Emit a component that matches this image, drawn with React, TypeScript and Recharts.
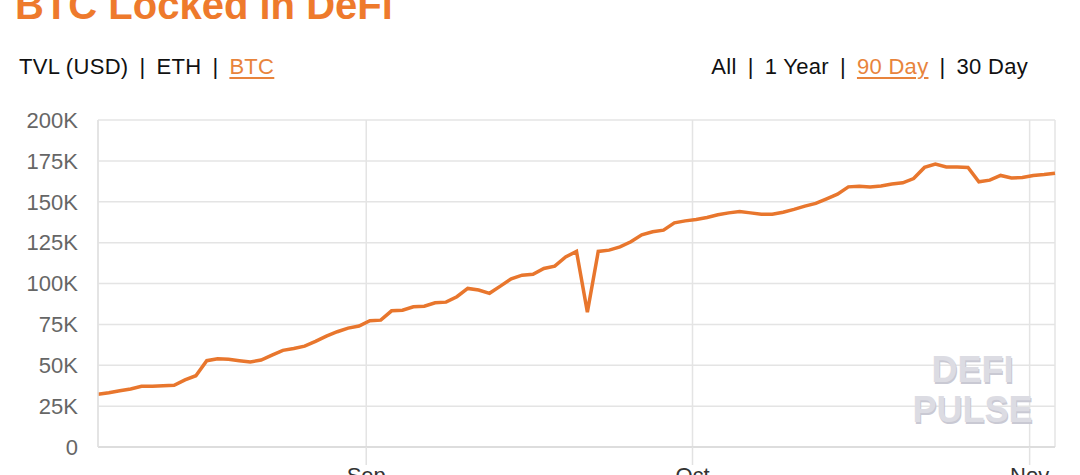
import React from 'react';
import { LineChart, Line, XAxis, YAxis, CartesianGrid } from 'recharts';

const DAY_MS = 86400000;
const startTime = Date.UTC(2020, 7, 7, 8);

// BTC locked, one reading per day (Aug 7 -> Nov 3)
const btcLocked = [
  32200, 33200, 34400, 35500, 37100, 37100, 37500, 37700, 41000, 43600,
  52800, 54000, 53600, 52800, 52000, 53200, 56200, 59100, 60300, 61700,
  64600, 67800, 70500, 72700, 74000, 77200, 77600, 83300, 83700, 85800,
  86100, 88200, 88600, 91900, 97000, 96000, 94000, 98400, 102900, 105100,
  105600, 109200, 110600, 116300, 119600, 82500, 119600, 120400, 122400, 125500,
  129800, 131600, 132600, 137100, 138300, 139200, 140400, 142000, 143200, 144100,
  143200, 142400, 142400, 143600, 145300, 147300, 149000, 151800, 154600, 159100,
  159500, 159100, 159700, 160800, 161600, 164200, 171000, 173000, 171300, 171300,
  171000, 162200, 163200, 166100, 164600, 164800, 166100, 166700, 167500,
];

const monthTicks = [Date.UTC(2020, 8, 1), Date.UTC(2020, 9, 1), Date.UTC(2020, 10, 1)];
const monthLabels = ['Sep', 'Oct', 'Nov'];
const valueTicks = [0, 25000, 50000, 75000, 100000, 125000, 150000, 175000, 200000];

const assetTabs = ['TVL (USD)', 'ETH', 'BTC'];
const activeAsset = 'BTC';
const rangeTabs = ['All', '1 Year', '90 Day', '30 Day'];
const activeRange = '90 Day';

const ORANGE = '#ee7a2c';
const FONT = '"Liberation Sans", Arial, sans-serif';

function Tabs({ items, active }: { items: string[]; active: string }) {
  return (
    <span>
      {items.map((item, i) => (
        <React.Fragment key={item}>
          {i > 0 && <span style={{ margin: '0 11px' }}>|</span>}
          <span
            style={
              item === active
                ? { color: '#e8843c', textDecoration: 'underline', textUnderlineOffset: 3 }
                : undefined
            }
          >
            {item}
          </span>
        </React.Fragment>
      ))}
    </span>
  );
}

export default function App() {
  const data = btcLocked.map((v, i) => ({ time: startTime + i * DAY_MS, btc: v }));

  const fmtValue = (v: number) => (v === 0 ? '0' : `${v / 1000}K`);
  const fmtMonth = (t: number) => monthLabels[monthTicks.indexOf(t)] ?? '';

  const tabStyle: React.CSSProperties = {
    position: 'absolute',
    top: 54,
    fontSize: 22,
    color: '#111',
    whiteSpace: 'nowrap',
    letterSpacing: 0.3,
  };

  return (
    <div
      style={{
        position: 'fixed',
        left: 0,
        top: 0,
        width: 1080,
        height: 475,
        overflow: 'hidden',
        background: '#fff',
        fontFamily: FONT,
      }}
    >
      <div
        style={{
          position: 'absolute',
          left: 15,
          top: -15,
          fontSize: 40,
          lineHeight: 1,
          fontWeight: 700,
          color: ORANGE,
          whiteSpace: 'nowrap',
        }}
      >
        BTC Locked in DeFi
      </div>

      <div style={{ ...tabStyle, left: 19 }}>
        <Tabs items={assetTabs} active={activeAsset} />
      </div>
      <div style={{ ...tabStyle, right: 52 }}>
        <Tabs items={rangeTabs} active={activeRange} />
      </div>

      <div style={{ position: 'absolute', left: 0, top: 0 }}>
        <LineChart width={1080} height={520} data={data} margin={{ top: 120, right: 25, bottom: 13, left: 18 }}>
          <CartesianGrid stroke="#e4e4e4" strokeWidth={1.5} />
          <XAxis
            dataKey="time"
            type="number"
            domain={['dataMin', 'dataMax']}
            ticks={monthTicks}
            tickFormatter={fmtMonth}
            height={60}
            tickSize={18}
            tickMargin={2}
            tickLine={{ stroke: '#e2e2e2', strokeWidth: 1.5 }}
            axisLine={{ stroke: '#d8d8d8', strokeWidth: 1.5 }}
            tick={{ fontSize: 22, fill: '#333', fontFamily: FONT }}
          />
          <YAxis
            domain={[0, 200000]}
            ticks={valueTicks}
            tickFormatter={fmtValue}
            width={80}
            tickSize={0}
            tickMargin={20}
            tickLine={false}
            axisLine={{ stroke: '#e2e2e2', strokeWidth: 1.5 }}
            tick={{ fontSize: 22, fill: '#666', fontFamily: FONT }}
          />
          <Line
            type="linear"
            dataKey="btc"
            stroke="#e8762d"
            strokeWidth={3.5}
            dot={false}
            isAnimationActive={false}
          />
        </LineChart>
      </div>

      <div
        style={{
          position: 'absolute',
          left: 900,
          top: 350,
          width: 145,
          textAlign: 'center',
          fontSize: 36,
          fontWeight: 700,
          lineHeight: '40px',
          color: '#dcdce3',
          textShadow: '1px 2px 0 #c9c9d3',
        }}
      >
        DEFI
        <br />
        PULSE
      </div>
    </div>
  );
}
